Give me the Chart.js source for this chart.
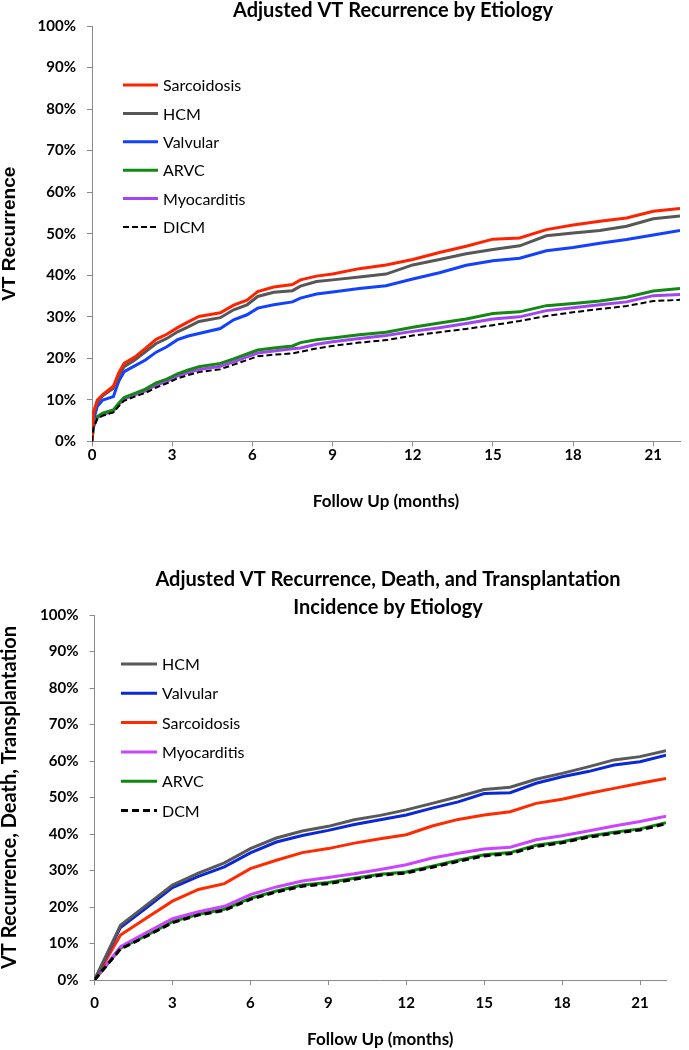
<!DOCTYPE html>
<html>
<head>
<meta charset="utf-8">
<script src="https://cdn.jsdelivr.net/npm/chart.js@4"></script>
<style>
  body { margin: 0; background: #fff; width: 689px; height: 1050px; position: relative; overflow: hidden; }
  #grafico1 { position: absolute; left: 0; top: 0; }
  #grafico2 { position: absolute; left: 0; top: 520px; }
</style>
</head>
<body>
<canvas id="grafico1" width="689" height="520"></canvas>
<canvas id="grafico2" width="689" height="530"></canvas>
<script>
// Datos grafico 1 (VT Recurrence)
const meses1 = [0, 0.05, 0.2, 0.4, 0.8, 1.0, 1.2, 1.6, 2.0, 2.4, 2.8, 3.2, 3.6, 4.0, 4.8, 5.3, 5.8, 6.2, 6.8, 7.5, 7.8, 8.4, 9, 10, 11, 12, 13, 14, 15, 16, 17, 18, 19, 20, 21, 22];
const sarcoidosis1 = [0, 7, 10, 11.3, 13.3, 16.5, 18.8, 20.3, 22.4, 24.6, 25.8, 27.4, 28.8, 30.1, 31, 32.8, 34, 36.1, 37.2, 37.8, 38.9, 39.8, 40.3, 41.6, 42.5, 43.8, 45.5, 47, 48.7, 49, 51, 52.1, 53, 53.8, 55.4, 56.1];
const hcm1 = [0, 6.5, 9.5, 11, 12.8, 15.8, 18, 19.6, 21.6, 23.6, 24.8, 26.4, 27.6, 28.9, 29.8, 31.7, 32.9, 34.9, 35.9, 36.3, 37.4, 38.5, 38.9, 39.6, 40.3, 42.5, 43.8, 45.2, 46.2, 47.1, 49.5, 50.2, 50.8, 51.8, 53.6, 54.3];
const valvular1 = [0, 5, 8.5, 10, 10.8, 14.5, 16.8, 18.2, 19.6, 21.5, 22.8, 24.5, 25.4, 26, 27.2, 29.3, 30.5, 32.1, 32.9, 33.6, 34.5, 35.5, 36, 36.8, 37.5, 39.1, 40.6, 42.4, 43.5, 44.1, 45.9, 46.7, 47.7, 48.6, 49.7, 50.8];
const arvc1 = [0, 3.6, 6, 6.8, 7.6, 9.2, 10.6, 11.6, 12.6, 14.1, 15, 16.3, 17.2, 18, 18.8, 19.9, 21.1, 22, 22.5, 23, 23.8, 24.5, 24.9, 25.7, 26.3, 27.5, 28.5, 29.5, 30.8, 31.2, 32.7, 33.2, 33.8, 34.7, 36.2, 36.8];
const miocarditis1 = [0, 3.4, 5.7, 6.5, 7.3, 8.9, 10.2, 11.2, 12.2, 13.6, 14.5, 15.8, 16.6, 17.3, 18.1, 19.2, 20.4, 21.3, 21.8, 22.3, 22.5, 23.4, 24, 24.8, 25.5, 26.5, 27.4, 28.4, 29.5, 30, 31.5, 32.2, 32.9, 33.6, 35.1, 35.4];
const dicm1 = [0, 3.2, 5.5, 6.2, 7, 8.5, 9.8, 10.8, 11.7, 13, 14, 15.2, 16, 16.7, 17.4, 18.5, 19.6, 20.5, 20.9, 21.2, 21.6, 22.4, 23, 23.8, 24.4, 25.5, 26.3, 27.1, 28, 29, 30.2, 31.1, 31.9, 32.6, 33.8, 34.1];

// Datos grafico 2 (VT Recurrence, Death, Transplantation)
const meses2 = [0, 1, 2, 3, 4, 5, 6, 7, 8, 9, 10, 11, 12, 13, 14, 15, 16, 17, 18, 19, 20, 21, 22];
const hcm2 = [0, 15.0, 20.5, 26.0, 29.3, 32.1, 36.0, 38.9, 40.8, 42.1, 43.9, 45.1, 46.6, 48.4, 50.2, 52.2, 52.8, 55.0, 56.6, 58.4, 60.3, 61.2, 62.8];
const valvular2 = [0, 14.4, 19.8, 25.3, 28.4, 31.0, 34.8, 37.8, 39.6, 41.0, 42.6, 43.9, 45.2, 47.1, 48.8, 51.1, 51.3, 53.9, 55.7, 57.1, 58.9, 59.8, 61.6];
const sarcoidosis2 = [0, 12.3, 17.0, 21.6, 24.8, 26.4, 30.5, 32.8, 34.9, 36.0, 37.5, 38.7, 39.8, 42.2, 44.0, 45.2, 46.1, 48.4, 49.5, 51.1, 52.5, 53.9, 55.2];
const miocarditis2 = [0, 9.1, 13.0, 16.8, 18.7, 20.2, 23.4, 25.5, 27.1, 28.1, 29.1, 30.3, 31.6, 33.4, 34.7, 35.9, 36.4, 38.4, 39.5, 40.8, 42.2, 43.4, 44.9];
const arvc2 = [0, 8.7, 12.2, 16.0, 18.0, 19.4, 22.4, 24.4, 26.0, 26.7, 27.9, 29.0, 29.6, 31.2, 32.8, 34.3, 34.9, 36.9, 37.9, 39.4, 40.5, 41.4, 43.1];
const dcm2 = [0, 8.5, 12.0, 15.7, 17.8, 19.1, 22.1, 24.1, 25.7, 26.4, 27.6, 28.7, 29.3, 30.9, 32.5, 34.0, 34.6, 36.6, 37.6, 39.1, 40.2, 41.1, 42.8];

// Ejes
const mesMax = 22;
const pasoMeses = 3;
const pasoPct = 10;

Chart.defaults.font.family = 'Lato';
Chart.defaults.color = '#000';

// Titulos y leyenda dibujados a mano
const textosPlugin = {
  id: 'textos',
  afterDraw(chart, args, o) {
    const ctx = chart.ctx;
    ctx.save();
    ctx.fillStyle = '#000';
    ctx.textAlign = 'center';
    ctx.textBaseline = 'middle';
    ctx.font = 'bold 20px Lato';
    o.titulo.forEach((t, i) => ctx.fillText(t, o.tx, o.ty + i * o.tl));
    ctx.font = '16px Lato';
    ctx.textAlign = 'left';
    chart.data.datasets.forEach((ds, i) => {
      const y = o.ly + i * o.lpaso;
      ctx.beginPath();
      ctx.strokeStyle = ds.borderColor;
      ctx.lineWidth = ds.borderWidth;
      ctx.setLineDash(ds.borderDash || []);
      ctx.moveTo(o.lx, y);
      ctx.lineTo(o.lx + o.llargo, y);
      ctx.stroke();
      ctx.setLineDash([]);
      ctx.fillText(ds.label, o.lx + o.llargo + 5, y + 1);
    });
    ctx.restore();
  }
};

function crearGrafico(id, meses, series, cfg) {
  return new Chart(document.getElementById(id), {
    type: 'line',
    data: {
      datasets: series.map((s, i) => ({
        label: s.nombre,
        data: meses.map((m, j) => ({ x: m, y: s.valores[j] })),
        borderColor: s.color,
        borderWidth: s.ancho,
        borderDash: s.guiones || [],
        pointRadius: 0,
        tension: 0,
        fill: false,
        order: s.guiones ? 0 : i + 1
      }))
    },
    options: {
      responsive: false,
      animation: false,
      layout: { padding: cfg.padding },
      plugins: {
        legend: { display: false },
        title: { display: false },
        tooltip: { enabled: false },
        textos: cfg.textos
      },
      scales: {
        x: {
          type: 'linear', min: 0, max: mesMax,
          border: { color: '#8a8a8a', width: 1 },
          grid: { drawOnChartArea: false, tickLength: 5, color: '#8a8a8a' },
          ticks: { stepSize: pasoMeses, includeBounds: false, padding: cfg.padTicksX, font: { size: 15, weight: 'bold' } },
          title: { display: true, text: 'Follow Up (months)', font: { size: 17, weight: 'bold', lineHeight: 1 }, padding: { top: 0, bottom: cfg.padTituloX } },
          afterFit: s => { s.height = cfg.altoX; }
        },
        y: {
          min: 0, max: 100,
          border: { color: '#8a8a8a', width: 1 },
          grid: { drawOnChartArea: false, tickLength: 5, color: '#8a8a8a' },
          ticks: { stepSize: pasoPct, padding: 11, font: { size: 15, weight: 'bold' }, callback: v => v + '%' },
          title: { display: true, text: cfg.tituloY, font: cfg.fuenteY, padding: { top: 0, bottom: 0 } },
          afterFit: s => { s.width = cfg.anchoY; }
        }
      }
    },
    plugins: [textosPlugin]
  });
}

crearGrafico('grafico1', meses1, [
  { nombre: 'Sarcoidosis', valores: sarcoidosis1, color: '#ff2200', ancho: 3 },
  { nombre: 'HCM', valores: hcm1, color: '#575757', ancho: 3 },
  { nombre: 'Valvular', valores: valvular1, color: '#1241ff', ancho: 3 },
  { nombre: 'ARVC', valores: arvc1, color: '#128a12', ancho: 3 },
  { nombre: 'Myocarditis', valores: miocarditis1, color: '#a244f2', ancho: 3 },
  { nombre: 'DICM', valores: dicm1, color: '#000000', ancho: 2, guiones: [6, 3] }
], {
  padding: { top: 26, right: 9, left: 0, bottom: 0 },
  anchoY: 92, altoX: 78.5, padTicksX: 0, padTituloX: 9.5,
  tituloY: 'VT Recurrence',
  fuenteY: { family: "'Liberation Sans', Arial, sans-serif", size: 19, weight: 'bold', lineHeight: 1 },
  textos: { titulo: ['Adjusted VT Recurrence by Etiology'], tx: 393, ty: 11, tl: 28, lx: 123, ly: 85, lpaso: 28.4, llargo: 35 }
});

crearGrafico('grafico2', meses2, [
  { nombre: 'HCM', valores: hcm2, color: '#595959', ancho: 3 },
  { nombre: 'Valvular', valores: valvular2, color: '#0a28d8', ancho: 3 },
  { nombre: 'Sarcoidosis', valores: sarcoidosis2, color: '#ff2a00', ancho: 3 },
  { nombre: 'Myocarditis', valores: miocarditis2, color: '#cc44ff', ancho: 3 },
  { nombre: 'ARVC', valores: arvc2, color: '#0b8a0b', ancho: 3 },
  { nombre: 'DCM', valores: dcm2, color: '#000000', ancho: 3, guiones: [7, 4] }
], {
  padding: { top: 95, right: 23, left: 0, bottom: 0 },
  anchoY: 94.5, altoX: 70, padTicksX: 9, padTituloX: 1.5,
  tituloY: 'VT Recurrence, Death, Transplantation',
  fuenteY: { family: 'Lato', size: 20, weight: 'bold', lineHeight: 1 },
  textos: { titulo: ['Adjusted VT Recurrence, Death, and Transplantation', 'Incidence by Etiology'], tx: 388, ty: 60, tl: 28, lx: 121, ly: 144, lpaso: 29.3, llargo: 36 }
});
</script>
</body>
</html>
